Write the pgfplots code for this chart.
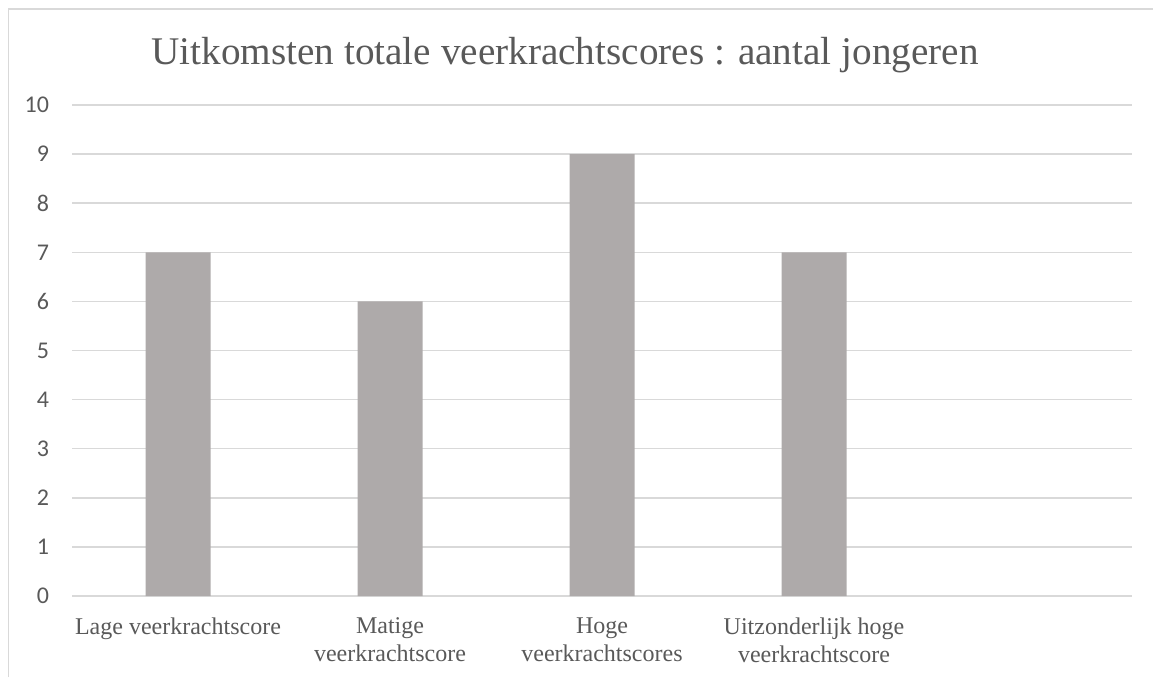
\documentclass[border=0pt]{standalone}
\usepackage{pgfplots}
\pgfplotsset{compat=1.18}
\usepackage{fontspec}
\setmainfont{Liberation Serif}
\newfontfamily\calibri{Carlito}
\definecolor{txt}{HTML}{595959}
\definecolor{gridc}{HTML}{D9D9D9}
\definecolor{barc}{HTML}{AEAAAA}

\begin{document}
\begin{tikzpicture}
% canvas 1153x677 px at 0.5pt per px
\useasboundingbox (0,0) rectangle (576.5pt,338.5pt);
\draw[gridc, line width=0.8pt] (4.25pt,0) -- (4.25pt,334pt) -- (576.5pt,334pt);
\node[txt, font=\fontsize{19.6}{22}\selectfont] at (282.5pt,311pt) {Uitkomsten totale veerkrachtscores : aantal jongeren};
\begin{axis}[
    at={(36pt,40.5pt)}, anchor=south west,
    scale only axis,
    width=530pt, height=245.5pt,
    xmin=-0.5, xmax=4.5,
    ymin=0, ymax=10,
    ytick distance=1,
    xtick={0,1,2,3},
    xticklabels={Lage veerkrachtscore, Matige\\veerkrachtscore, Hoge\\veerkrachtscores, Uitzonderlijk hoge\\veerkrachtscore},
    axis line style={draw=none},
    major tick length=0pt,
    ymajorgrids=true,
    grid style={draw=gridc, line width=0.75pt},
    /pgf/number format/assume math mode=true,
    yticklabel style={font=\calibri\fontsize{12}{14}\selectfont, text=txt, xshift=-8pt},
    xticklabel style={font=\fontsize{12}{14}\selectfont, text=txt, align=center, yshift=-7.5pt},
    clip=false,
]
\addplot[ybar, bar width=32.5pt, fill=barc, draw=none] coordinates {
    (0,7) (1,6) (2,9) (3,7)
};
\end{axis}
\end{tikzpicture}
\end{document}
